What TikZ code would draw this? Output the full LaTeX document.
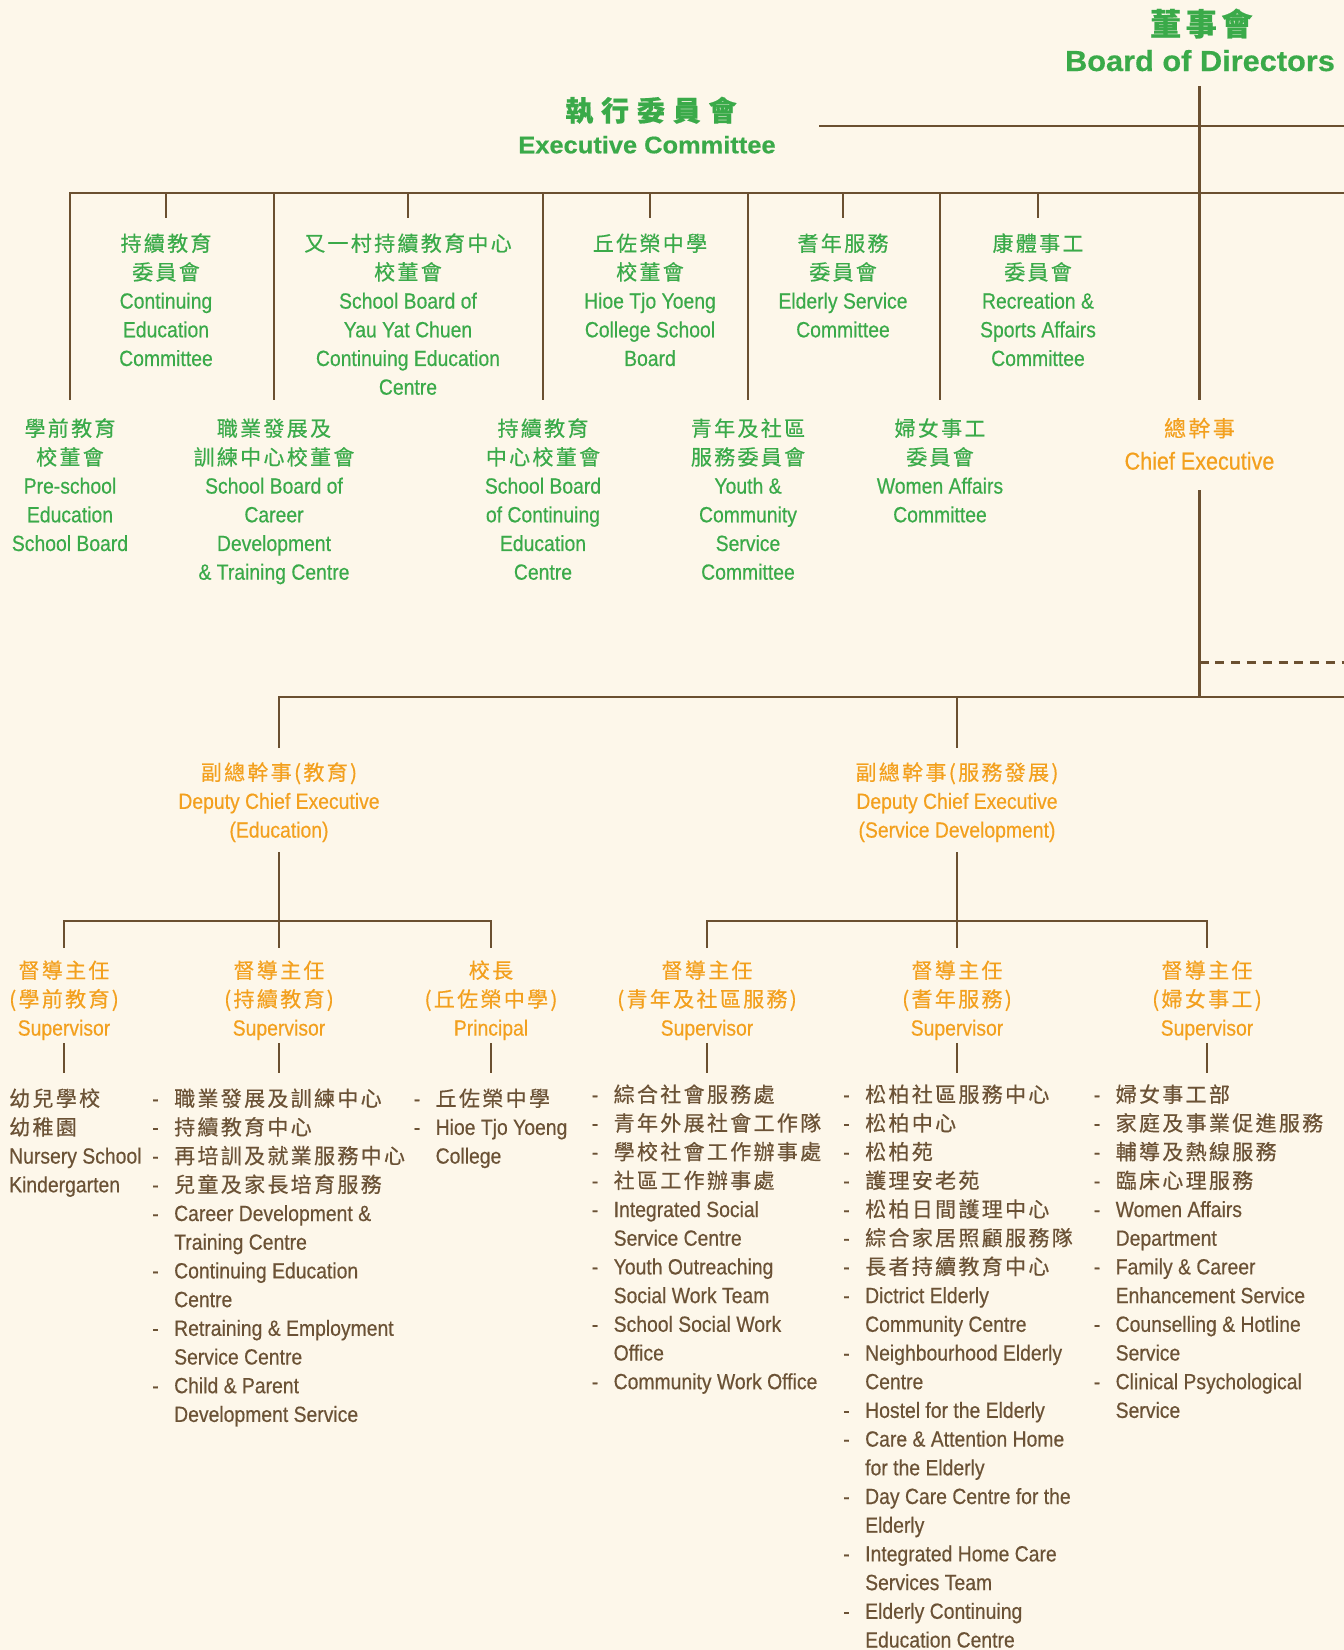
\documentclass[tikz,border=0pt]{standalone}
\usepackage{fontspec}
\setmainfont{Liberation Sans}[FakeStretch=0.88,FakeBold=0.45]
\newfontfamily\cjk[LetterSpace=11,FakeBold=0.45]{Noto Sans CJK TC}
\newfontfamily\cjkh[LetterSpace=15,FakeBold=0.6]{Noto Sans CJK TC}
\newfontfamily\cjkx[LetterSpace=28,FakeBold=0.6]{Noto Sans CJK TC}
\newfontfamily\enh[FakeStretch=1.06,FakeBold=0.5]{Liberation Sans}
\definecolor{bgc}{HTML}{FDF7EA}
\definecolor{grn}{HTML}{3AAA49}
\definecolor{org}{HTML}{F3A01E}
\definecolor{brn}{HTML}{6B5235}
\definecolor{lnc}{HTML}{6B5030}
\newcommand\zh[1]{{\cjk\fontsize{21}{28.7}\selectfont #1}}
\newcommand\cb[1]{\begin{tabular}{@{}c@{}}#1\end{tabular}}
\newcommand\lb[1]{\begin{tabular}{@{}p{22pt}@{}l@{}}#1\end{tabular}}
\newcommand\lbone[1]{\begin{tabular}{@{}l@{}}#1\end{tabular}}
\begin{document}
\begin{tikzpicture}[x=1pt,y=-1pt,
  conn/.style={draw=lnc, line width=2.7pt},
  blk/.style={anchor=north, inner sep=0pt, font=\fontsize{22}{28.7}\selectfont},
  comm/.style={blk, text=grn},
  orng/.style={blk, text=org},
  lst/.style={anchor=north west, inner sep=0pt, font=\fontsize{22}{28.7}\selectfont, text=brn},
  head/.style={anchor=base, inner sep=0pt, text=grn}]
\fill[bgc] (0,0) rectangle (1344,1650);
\useasboundingbox (0,0) rectangle (1344,1650);

% headings
\node[head, font=\cjkh\fontsize{31}{32}\selectfont\bfseries] (bodzh) at (1199,35.5) {董事會\kern-4.6pt};
\node[head, font=\enh\fontsize{29}{30}\selectfont\bfseries] (bod) at (1200,71) {Board of Directors};
\node[head, font=\cjkx\fontsize{28}{30}\selectfont\bfseries] (exzh) at (647,121) {執行委員會\kern-7.8pt};
\node[head, font=\enh\fontsize{24}{26}\selectfont\bfseries] (ex) at (647,153.3) {Executive Committee};

% upper committees
\node[comm] (ucA) at (166,230.9) {\cb{\zh{持續教育}\\\zh{委員會}\\Continuing\\Education\\Committee}};
\node[comm] (ucB) at (408,230.9) {\cb{\zh{又一村持續教育中心}\\\zh{校董會}\\School Board of\\Yau Yat Chuen\\Continuing Education\\Centre}};
\node[comm] (ucC) at (650,230.9) {\cb{\zh{丘佐榮中學}\\\zh{校董會}\\Hioe Tjo Yoeng\\College School\\Board}};
\node[comm] (ucD) at (843,230.9) {\cb{\zh{耆年服務}\\\zh{委員會}\\Elderly Service\\Committee}};
\node[comm] (ucE) at (1038,230.9) {\cb{\zh{康體事工}\\\zh{委員會}\\Recreation \&\\Sports Affairs\\Committee}};

% lower committees
\node[comm] (lcA) at (70,415.9) {\cb{\zh{學前教育}\\\zh{校董會}\\Pre-school\\Education\\School Board}};
\node[comm] (lcB) at (274,415.9) {\cb{\zh{職業發展及}\\\zh{訓練中心校董會}\\School Board of\\Career\\Development\\\& Training Centre}};
\node[comm] (lcC) at (543,415.9) {\cb{\zh{持續教育}\\\zh{中心校董會}\\School Board\\of Continuing\\Education\\Centre}};
\node[comm] (lcD) at (748,415.9) {\cb{\zh{青年及社區}\\\zh{服務委員會}\\Youth \&\\Community\\Service\\Committee}};
\node[comm] (lcE) at (940,415.9) {\cb{\zh{婦女事工}\\\zh{委員會}\\Women Affairs\\Committee}};

% chief executive
\node[anchor=north, inner sep=0pt, text=org, font=\fontsize{24.5}{33}\selectfont] (ce) at (1199.5,413.3)
  {\cb{{\cjk\fontsize{22}{33}\selectfont 總幹事}\\Chief Executive}};

% deputies
\node[orng] (dpA) at (279,759.9) {\cb{\zh{副總幹事(教育)}\\Deputy Chief Executive\\(Education)}};
\node[orng] (dpB) at (957,759.9) {\cb{\zh{副總幹事(服務發展)}\\Deputy Chief Executive\\(Service Development)}};

% supervisors
\node[orng] (spA) at (64,957.9) {\cb{\zh{督導主任}\\\zh{(學前教育)}\\Supervisor}};
\node[orng] (spB) at (279,957.9) {\cb{\zh{督導主任}\\\zh{(持續教育)}\\Supervisor}};
\node[orng] (spC) at (491,957.9) {\cb{\zh{校長}\\\zh{(丘佐榮中學)}\\Principal}};
\node[orng] (spD) at (707,957.9) {\cb{\zh{督導主任}\\\zh{(青年及社區服務)}\\Supervisor}};
\node[orng] (spE) at (957,957.9) {\cb{\zh{督導主任}\\\zh{(耆年服務)}\\Supervisor}};
\node[orng] (spF) at (1207,957.9) {\cb{\zh{督導主任}\\\zh{(婦女事工)}\\Supervisor}};

% service lists
\node[lst] (lsA) at (9,1085.9) {\lbone{\zh{幼兒學校}\\\zh{幼稚園}\\Nursery School\\Kindergarten}};
\node[lst] (lsB) at (152,1085.9) {\lb{-&\zh{職業發展及訓練中心}\\-&\zh{持續教育中心}\\-&\zh{再培訓及就業服務中心}\\-&\zh{兒童及家長培育服務}\\-&Career Development \&\\&Training Centre\\-&Continuing Education\\&Centre\\-&Retraining \& Employment\\&Service Centre\\-&Child \& Parent\\&Development Service}};
\node[lst] (lsC) at (413.5,1085.9) {\lb{-&\zh{丘佐榮中學}\\-&Hioe Tjo Yoeng\\&College}};
\node[lst] (lsD) at (591.5,1081.9) {\lb{-&\zh{綜合社會服務處}\\-&\zh{青年外展社會工作隊}\\-&\zh{學校社會工作辦事處}\\-&\zh{社區工作辦事處}\\-&Integrated Social\\&Service Centre\\-&Youth Outreaching\\&Social Work Team\\-&School Social Work\\&Office\\-&Community Work Office}};
\node[lst] (lsE) at (843,1081.9) {\lb{-&\zh{松柏社區服務中心}\\-&\zh{松柏中心}\\-&\zh{松柏苑}\\-&\zh{護理安老苑}\\-&\zh{松柏日間護理中心}\\-&\zh{綜合家居照顧服務隊}\\-&\zh{長者持續教育中心}\\-&Dictrict Elderly\\&Community Centre\\-&Neighbourhood Elderly\\&Centre\\-&Hostel for the Elderly\\-&Care \& Attention Home\\&for the Elderly\\-&Day Care Centre for the\\&Elderly\\-&Integrated Home Care\\&Services Team\\-&Elderly Continuing\\&Education Centre}};
\node[lst] (lsF) at (1093.5,1081.9) {\lb{-&\zh{婦女事工部}\\-&\zh{家庭及事業促進服務}\\-&\zh{輔導及熱線服務}\\-&\zh{臨床心理服務}\\-&Women Affairs\\&Department\\-&Family \& Career\\&Enhancement Service\\-&Counselling \& Hotline\\&Service\\-&Clinical Psychological\\&Service}};

% connectors: board / executive
\coordinate (bodTop) at (1199.5,86);
\coordinate (ceTop) at (1199.5,400);
\draw[conn] (bodTop) -- (ceTop);
\coordinate (exL) at (819,126);
\coordinate (exR) at (1344,126);
\draw[conn] (exL) -- (exR);
\coordinate (brR) at (1344,193);
\foreach \n/\x in {A/70,B/274,C/543,D/748,E/940} {
  \coordinate (lt\n) at (\x,193);
  \coordinate (lb\n) at (\x,400);
}
\draw[conn] (lbA) -- (ltA) -- (brR);
\foreach \n in {B,C,D,E} \draw[conn] (lt\n) -- (lb\n);
\foreach \n/\x in {A/166,B/408,C/650,D/843,E/1038} {
  \coordinate (ut\n) at (\x,193);
  \coordinate (ub\n) at (\x,218);
  \draw[conn] (ut\n) -- (ub\n);
}

% chief executive to deputies
\coordinate (ceBot) at (1199.5,490);
\coordinate (depJ) at (1199.5,697);
\draw[conn] (ceBot) -- (depJ);
\coordinate (dsL) at (1199.5,662);
\coordinate (dsR) at (1344,662);
\draw[conn, line width=3pt, dash pattern=on 9pt off 6.8pt] (dsL) -- (dsR);
\coordinate (dbR) at (1344,697);
\coordinate (dA) at (279,697);
\coordinate (dAb) at (279,748);
\coordinate (dB) at (957,697);
\coordinate (dBb) at (957,748);
\draw[conn] (dAb) -- (dA) -- (dbR);
\draw[conn] (dB) -- (dBb);

% deputies to supervisors
\coordinate (dAd) at (279,852);
\coordinate (dBd) at (957,852);
\foreach \n/\x in {A/64,B/279,C/491,D/707,E/957,F/1207} {
  \coordinate (sj\n) at (\x,921);
  \coordinate (st\n) at (\x,948);
  \coordinate (sa\n) at (\x,1043);
  \coordinate (sb\n) at (\x,1073);
  \draw[conn] (sa\n) -- (sb\n);
}
\draw[conn] (dAd) -- (stB);
\draw[conn] (stA) -- (sjA) -- (sjC) -- (stC);
\draw[conn] (dBd) -- (stE);
\draw[conn] (stD) -- (sjD) -- (sjF) -- (stF);
\end{tikzpicture}
\end{document}
